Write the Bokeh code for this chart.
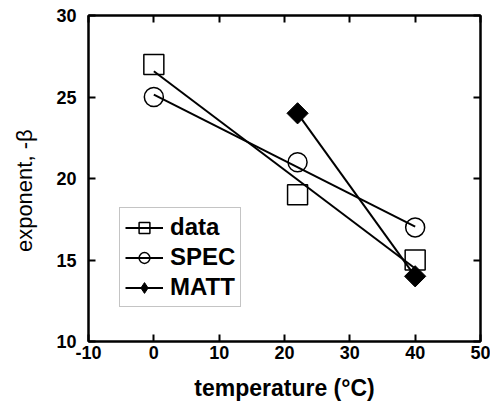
from bokeh.plotting import figure
from bokeh.models import LinearAxis, FixedTicker, Range1d, Legend, LegendItem
from bokeh.embed import file_html
from bokeh.resources import INLINE
import math

# ---- data ----
temp_data = [0, 22, 40]
beta_data = [27, 19, 15]
temp_spec = [0, 22, 40]
beta_spec = [25, 21, 17]
temp_matt = [22, 40]
beta_matt = [24, 14]

# straight lines drawn through each series (end points)
fit_x = [0, 40]
fit_data_y = [26.58, 14.48]
fit_spec_y = [25.15, 17.05]
fit_matt_x = [22, 40]
fit_matt_y = [24, 14]

x_ticks = [-10, 0, 10, 20, 30, 40, 50]
y_ticks = [10, 15, 20, 25, 30]
x_tick_labels = {-10: "-10", 0: "0", 10: "10", 20: "20", 30: "30", 40: "40", 50: "50"}

FONT = "Liberation Sans"

p = figure(width=490, height=407, output_backend="svg", toolbar_location=None,
           x_range=Range1d(-10, 50), y_range=Range1d(10, 30),
           min_border_right=10, min_border_top=15, min_border_left=88, min_border_bottom=66)
p.background_fill_color = "white"
p.border_fill_color = "white"
p.grid.visible = False
p.outline_line_color = "black"
p.outline_line_width = 2

l1 = p.line(fit_x, fit_data_y, line_color="black", line_width=2)
s1 = p.scatter(temp_data, beta_data, marker="square", size=20, fill_color=None,
               line_color="black", line_width=1.5)
l2 = p.line(fit_x, fit_spec_y, line_color="black", line_width=2)
s2 = p.scatter(temp_spec, beta_spec, marker="circle", size=19, fill_color=None,
               line_color="black", line_width=1.5)
l3 = p.line(fit_matt_x, fit_matt_y, line_color="black", line_width=2)
# diamond used for the legend swatch (lies hidden under the rotated squares)
s3_leg = p.scatter(temp_matt, beta_matt, marker="diamond", size=19,
                   fill_color="black", line_color="black", line_width=1)
s3 = p.scatter(temp_matt, beta_matt, marker="square", size=15, angle=math.pi / 4,
               fill_color="black", line_color="black", line_width=1)

legend = Legend(items=[
    LegendItem(label="data", renderers=[l1, s1]),
    LegendItem(label="SPEC", renderers=[l2, s2]),
    LegendItem(label="MATT", renderers=[l3, s3_leg]),
], location=(31, 34))
legend.label_text_font = FONT
legend.label_text_font_style = "bold"
legend.label_text_font_size = "24px"
legend.label_text_color = "black"
legend.glyph_width = 38
legend.glyph_height = 27
legend.label_height = 27
legend.label_standoff = 7
legend.spacing = 2
legend.padding = 5
legend.margin = 0
legend.border_line_color = "#8a8a8a"
legend.border_line_width = 1.5
legend.background_fill_color = "white"
legend.background_fill_alpha = 1
p.add_layout(legend)


def style_axis(ax, labels=True):
    ax.axis_line_width = 2
    ax.axis_line_color = "black"
    ax.major_tick_in = 7
    ax.major_tick_out = 0
    ax.major_tick_line_width = 2
    ax.major_tick_line_color = "black"
    ax.minor_tick_line_color = None
    if labels:
        ax.major_label_text_font = FONT
        ax.major_label_text_font_style = "bold"
        ax.major_label_text_font_size = "18px"
        ax.major_label_text_color = "black"
    else:
        ax.major_label_text_font_size = "1px"
        ax.major_label_standoff = 0
        ax.axis_label = None


xa = p.xaxis[0]
ya = p.yaxis[0]
xa.ticker = FixedTicker(ticks=x_ticks)
ya.ticker = FixedTicker(ticks=y_ticks)
style_axis(xa)
style_axis(ya)
xa.major_label_overrides = x_tick_labels
xa.major_label_standoff = 4
ya.major_label_standoff = 12
xa.axis_label = "temperature (°C)"
xa.axis_label_text_font = FONT
xa.axis_label_text_font_style = "bold"
xa.axis_label_text_font_size = "23px"
xa.axis_label_text_color = "black"
xa.axis_label_standoff = 13
ya.axis_label = "exponent, -β\u00a0\u00a0\u00a0\u00a0"
ya.axis_label_text_font = FONT
ya.axis_label_text_font_style = "normal"
ya.axis_label_text_font_size = "22px"
ya.axis_label_text_color = "black"
ya.axis_label_standoff = 16

xt = LinearAxis(ticker=FixedTicker(ticks=x_ticks))
style_axis(xt, labels=False)
xt.major_label_overrides = {t: "" for t in x_ticks}
p.add_layout(xt, "above")
yr = LinearAxis(ticker=FixedTicker(ticks=y_ticks))
style_axis(yr, labels=False)
yr.major_label_overrides = {t: "" for t in y_ticks}
p.add_layout(yr, "right")

open("out.html", "w").write(file_html(p, INLINE))
